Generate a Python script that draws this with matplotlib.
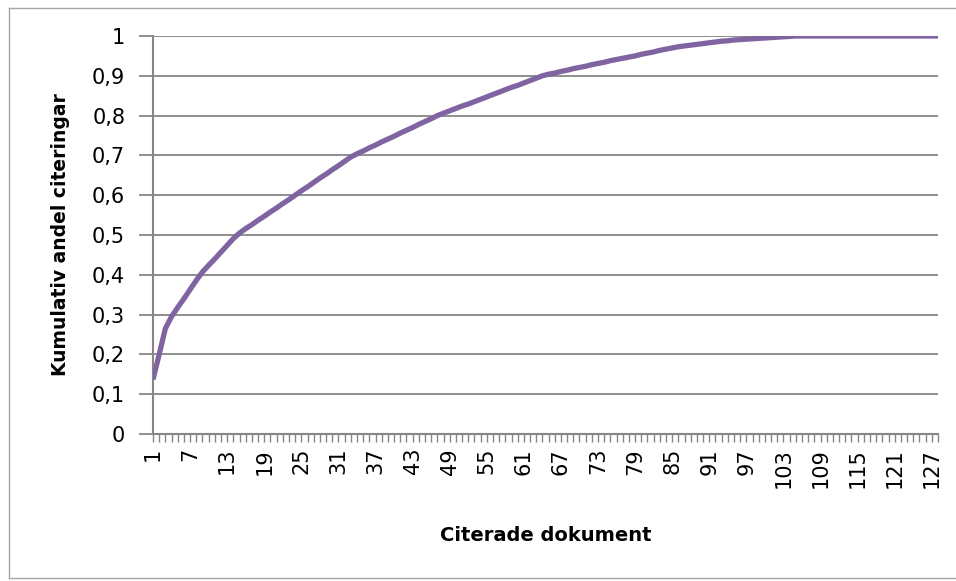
import numpy as np
import matplotlib
matplotlib.use("Agg")
import matplotlib.pyplot as plt
from matplotlib.ticker import FixedLocator, FuncFormatter

# Kumulativ andel citeringar per citerat dokument
dokument = list(range(1, 129))
andel = [
    0.137, 0.200, 0.265, 0.295, 0.318, 0.340, 0.363, 0.386, 0.407, 0.424,
    0.440, 0.457, 0.474, 0.491, 0.505, 0.516, 0.526, 0.537, 0.547, 0.558,
    0.568, 0.579, 0.589, 0.600, 0.611, 0.621, 0.632, 0.643, 0.653, 0.664,
    0.674, 0.685, 0.696, 0.704, 0.711, 0.719, 0.726, 0.734, 0.741, 0.748,
    0.756, 0.763, 0.770, 0.778, 0.785, 0.792, 0.800, 0.806, 0.812, 0.818,
    0.824, 0.829, 0.835, 0.841, 0.847, 0.853, 0.859, 0.865, 0.871, 0.876,
    0.882, 0.888, 0.894, 0.900, 0.904, 0.907, 0.911, 0.914, 0.918, 0.921,
    0.924, 0.928, 0.931, 0.934, 0.938, 0.941, 0.944, 0.947, 0.950, 0.954,
    0.957, 0.960, 0.964, 0.967, 0.970, 0.973, 0.975, 0.977, 0.979, 0.981,
    0.983, 0.985, 0.987, 0.988, 0.990, 0.991, 0.992, 0.993, 0.994, 0.995,
    0.996, 0.997, 0.998, 0.999, 1.000, 1.000, 1.000, 1.000, 1.000, 1.000,
    1.000, 1.000, 1.000, 1.000, 1.000, 1.000, 1.000, 1.000, 1.000, 1.000,
    1.000, 1.000, 1.000, 1.000, 1.000, 1.000, 1.000, 1.000,
]
x_etiketter = list(range(1, 129, 6))
y_varden = [i / 10 for i in range(11)]

plt.rcParams["font.family"] = ["DejaVu Sans"]
GRA = "#868686"

fig = plt.figure(figsize=(9.56, 5.81), dpi=100)
ax = fig.add_axes([153 / 956, 1 - 434 / 581, 785 / 956, 398 / 581])

# ram runt diagramytan
ram = dict(transform=fig.transFigure, color="#a6a6a6", lw=1)
fig.add_artist(plt.Line2D([9 / 956, 9 / 956], [1 - 578 / 581, 1 - 8 / 581], **ram))
fig.add_artist(plt.Line2D([9 / 956, 1.0], [1 - 8 / 581, 1 - 8 / 581], **ram))
fig.add_artist(plt.Line2D([9 / 956, 1.0], [1 - 578 / 581, 1 - 578 / 581], **ram))

ax.plot(dokument, andel, color="#8064A2", lw=3.8, solid_capstyle="butt", zorder=3)

ax.set_xlim(1, 128)
ax.set_ylim(0, 1)
ax.set_yticks(y_varden)
ax.yaxis.set_major_formatter(FuncFormatter(
    lambda v, p: "0" if v == 0 else ("1" if v == 1 else f"{v:.1f}".replace(".", ","))))
ax.grid(axis="y", color=GRA, lw=1.3)
ax.set_axisbelow(True)

ax.xaxis.set_major_locator(FixedLocator(x_etiketter))
ax.xaxis.set_minor_locator(FixedLocator(dokument))
ax.set_xticklabels([str(v) for v in x_etiketter], rotation=90, fontsize=15)

for s in ["top", "right"]:
    ax.spines[s].set_visible(False)
for s in ["left", "bottom"]:
    ax.spines[s].set_color(GRA)
    ax.spines[s].set_linewidth(1.5)

ax.tick_params(axis="y", length=10, width=1.3, color=GRA, pad=10, labelsize=15)
ax.tick_params(axis="x", which="both", length=6, width=1, color=GRA, pad=4)

ax.set_ylabel("Kumulativ andel citeringar", fontsize=13.5, fontweight="bold")
ax.set_xlabel("Citerade dokument", fontsize=14, fontweight="bold", va="top")
ax.yaxis.set_label_coords(-0.106, 0.5)
ax.xaxis.set_label_coords(0.5, -0.232)

fig.savefig("out.png", dpi=100)
